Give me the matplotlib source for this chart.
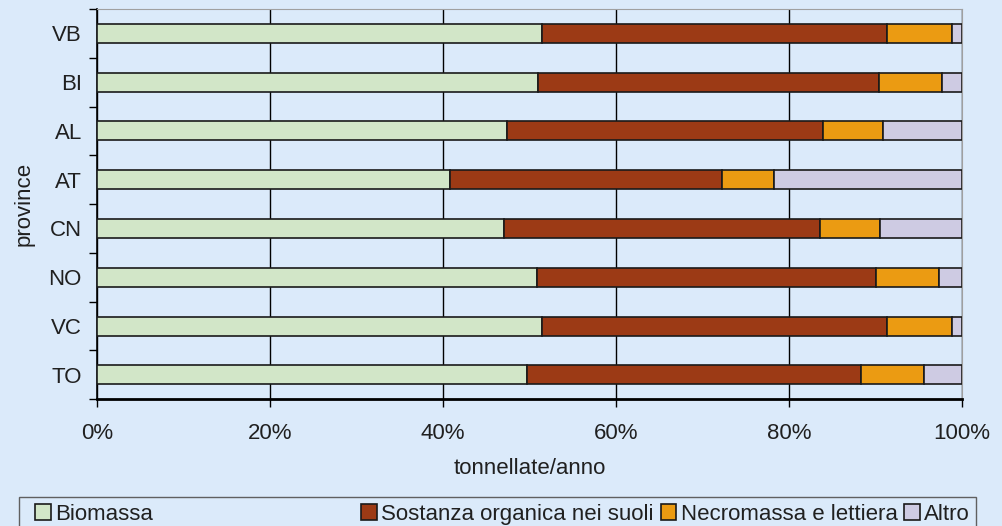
import matplotlib.pyplot as plt
from matplotlib.patches import Rectangle
import numpy as np

plt.rcParams['font.family'] = ['Liberation Sans', 'DejaVu Sans']

# provinces from bottom to top
province = ["TO", "VC", "NO", "CN", "AT", "AL", "BI", "VB"]
biomassa = [49.7, 51.4, 50.9, 47.1, 40.8, 47.4, 51.0, 51.4]
sostanza = [38.6, 39.9, 39.2, 36.5, 31.5, 36.5, 39.4, 39.9]
necromassa = [7.3, 7.5, 7.2, 6.9, 6.0, 7.0, 7.3, 7.5]
altro = [4.4, 1.2, 2.7, 9.5, 21.7, 9.1, 2.3, 1.2]

series = [("Biomassa", biomassa, "#d2e6c8"),
          ("Sostanza organica nei suoli", sostanza, "#9c3a15"),
          ("Necromassa e lettiera", necromassa, "#eb9b12"),
          ("Altro", altro, "#cecbe3")]

bg = "#dbeafa"
fs = 16
fig = plt.figure(figsize=(10.02, 5.26), dpi=100, facecolor=bg)
ax = fig.add_axes([0.0968, 0.241, 0.8632, 0.742], facecolor=bg)

y = np.arange(len(province))
left = np.zeros(len(province))
handles = []
for name, vals, col in series:
    b = ax.barh(y, vals, left=left, height=0.39, color=col,
                edgecolor="#1a1a1a", linewidth=1.2, label=name, zorder=3)
    handles.append(b)
    left += np.array(vals)

ax.set_xlim(0, 100)
ax.set_ylim(-0.5, len(province) - 0.5)
ax.set_xticks([0, 20, 40, 60, 80, 100])
ax.set_xticklabels(["0%", "20%", "40%", "60%", "80%", "100%"], fontsize=fs, color="#202020")
ax.set_yticks(y)
ax.set_yticklabels(province, fontsize=fs, color="#202020")
ax.set_yticks(np.arange(-0.5, len(province), 1), minor=True)
ax.tick_params(axis="y", which="major", length=0, pad=11)
ax.tick_params(axis="y", which="minor", length=6, width=1, direction="out")
ax.tick_params(axis="x", length=6, width=1, direction="out", pad=11)
ax.grid(axis="x", color="black", linewidth=1, zorder=1)
for s in ["top", "right"]:
    ax.spines[s].set_color("#a0a0a0")
ax.spines["left"].set_linewidth(1.2)
ax.spines["bottom"].set_linewidth(2)

ax.set_xlabel("tonnellate/anno", fontsize=fs, labelpad=10, color="#202020")
ax.set_ylabel("province", fontsize=fs, labelpad=10, color="#202020")

# legend frame at the bottom
fig.patches.append(Rectangle((0.019, -0.05), 0.955, 0.105, transform=fig.transFigure,
                             facecolor=bg, edgecolor="#606060", linewidth=1))
kw = dict(frameon=False, fontsize=fs, handlelength=0.7, handleheight=0.7,
          handletextpad=0.2, borderaxespad=0, borderpad=0, labelcolor="#202020")
fig.legend(handles=handles[:1], loc="center left", bbox_to_anchor=(0.035, 0.022), **kw)
fig.legend(handles=handles[1:], loc="center right", bbox_to_anchor=(0.968, 0.022),
           ncol=3, columnspacing=0.3, **kw)

fig.savefig("out.png", dpi=100, facecolor=bg)
